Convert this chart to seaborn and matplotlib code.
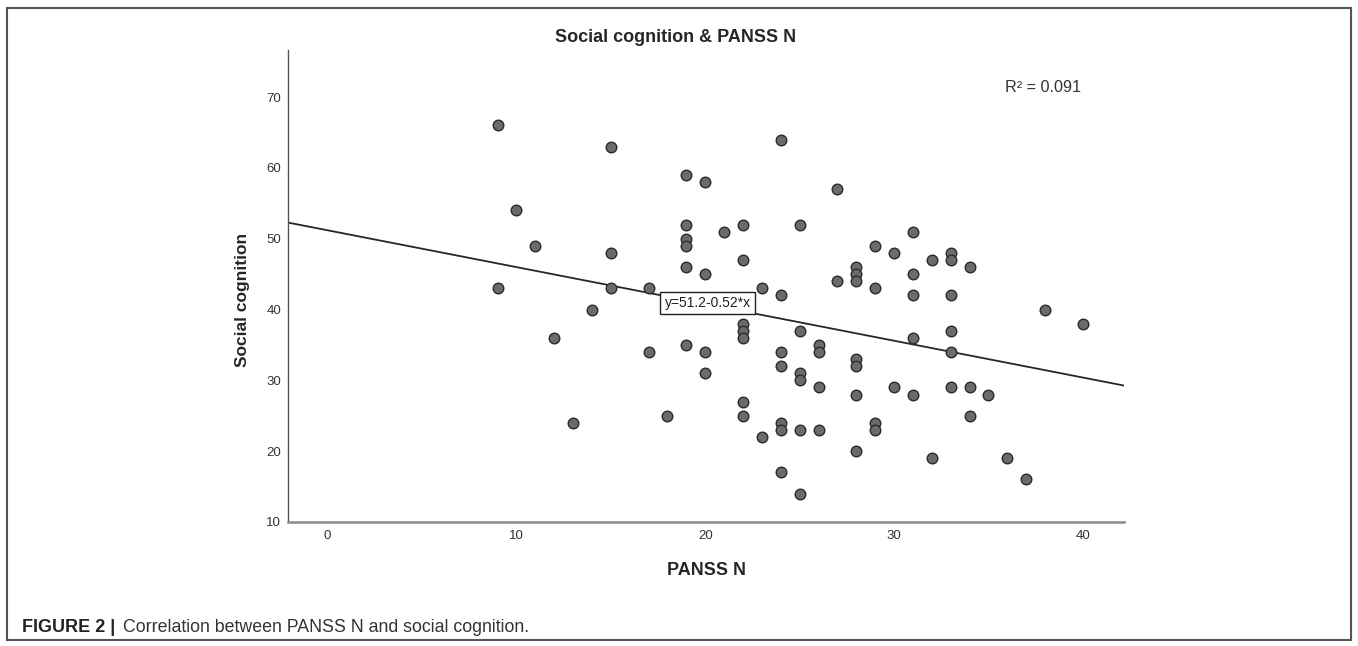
import numpy as np
import pandas as pd
import seaborn as sb
import matplotlib.pyplot as plt
from matplotlib.patches import Rectangle

#%% Data
panss_n = [9, 9, 10, 11, 12, 13, 14, 15, 15, 15, 17, 17, 18,
           19, 19, 19, 19, 19, 19, 20, 20, 20, 20, 21,
           22, 22, 22, 22, 22, 22, 22, 23, 23,
           24, 24, 24, 24, 24, 24, 24, 25, 25, 25, 25, 25, 25,
           26, 26, 26, 26, 27, 27, 28, 28, 28, 28, 28, 28, 28,
           29, 29, 29, 29, 30, 30, 31, 31, 31, 31, 31, 32, 32,
           33, 33, 33, 33, 33, 33, 34, 34, 34, 35, 36, 37, 38, 40]
social_cog = [66, 43, 54, 49, 36, 24, 40, 63, 48, 43, 43, 34, 25,
              59, 52, 50, 49, 46, 35, 58, 45, 34, 31, 51,
              52, 47, 38, 37, 36, 27, 25, 43, 22,
              64, 42, 34, 32, 24, 23, 17, 52, 37, 31, 30, 23, 14,
              35, 34, 29, 23, 57, 44, 46, 45, 44, 33, 32, 28, 20,
              49, 43, 24, 23, 48, 29, 51, 45, 42, 36, 28, 47, 19,
              48, 47, 42, 37, 34, 29, 46, 29, 25, 28, 19, 16, 40, 38]

fit_intercept = 51.2
fit_slope = -0.52
r_squared = 0.091

x_ticks = [0, 10, 20, 30, 40]
y_ticks = [10, 20, 30, 40, 50, 60, 70]

df = pd.DataFrame({'PANSS N': panss_n, 'Social cognition': social_cog})

#%% Plot
sb.set_style('white')
plt.rcParams['font.family'] = ['Liberation Sans', 'DejaVu Sans']

fig = plt.figure(figsize=(13.58, 6.46), dpi=100)
ax = fig.add_axes([0.212, 0.192, 0.616, 0.731])

sb.scatterplot(data=df, x='PANSS N', y='Social cognition', ax=ax,
               color='#6b6b6b', edgecolor='#2b2b2b', linewidth=1.0, s=58, zorder=3)

ax.set_xlim(-2.1, 42.2)
ax.set_ylim(10, 76.7)
ax.axline((0, fit_intercept), slope=fit_slope, color='#262626', lw=1.3, zorder=2)

ax.set_xticks(x_ticks)
ax.set_yticks(y_ticks)
ax.tick_params(length=0, labelsize=9.5, labelcolor='#333333')
ax.tick_params(axis='x', pad=6)
ax.tick_params(axis='y', pad=5)

for s in ['top', 'right']:
    ax.spines[s].set_visible(False)
ax.spines['left'].set_color('#555555')
ax.spines['left'].set_linewidth(1.0)
ax.spines['bottom'].set_color('#8a8a8a')
ax.spines['bottom'].set_linewidth(1.8)

ax.set_xlabel('PANSS N', fontsize=13, fontweight='bold', labelpad=14)
ax.set_ylabel('')
fig.text(243 / 1358, 1 - 300 / 646, 'Social cognition', fontsize=12.5,
         fontweight='bold', rotation=90, ha='center', va='center')
fig.text(676 / 1358, 1 - 37 / 646, 'Social cognition & PANSS N', fontsize=13,
         fontweight='bold', ha='center', va='center')

ax.text(17.85, 40.9, 'y=51.2-0.52*x', fontsize=10, ha='left', va='center',
        color='#222222', zorder=4,
        bbox=dict(boxstyle='square,pad=0.3', fc='white', ec='#222222', lw=1))
ax.text(35.9, 71.3, 'R\u00b2 = %.3f' % r_squared, fontsize=11.7, ha='left',
        va='center', color='#333333')

# outer frame and caption
fig.patches.append(Rectangle((7 / 1358, 6 / 646), 1344 / 1358, 632 / 646,
                             transform=fig.transFigure, fill=False,
                             ec='#555555', lw=1.5))
fig.text(22 / 1358, 1 - 627 / 646, 'FIGURE 2 |', fontsize=13, fontweight='bold',
         color='#222222', va='center')
fig.text(123 / 1358, 1 - 627 / 646, 'Correlation between PANSS N and social cognition.',
         fontsize=12.8, color='#333333', va='center')

fig.savefig('out.png', dpi=100)
